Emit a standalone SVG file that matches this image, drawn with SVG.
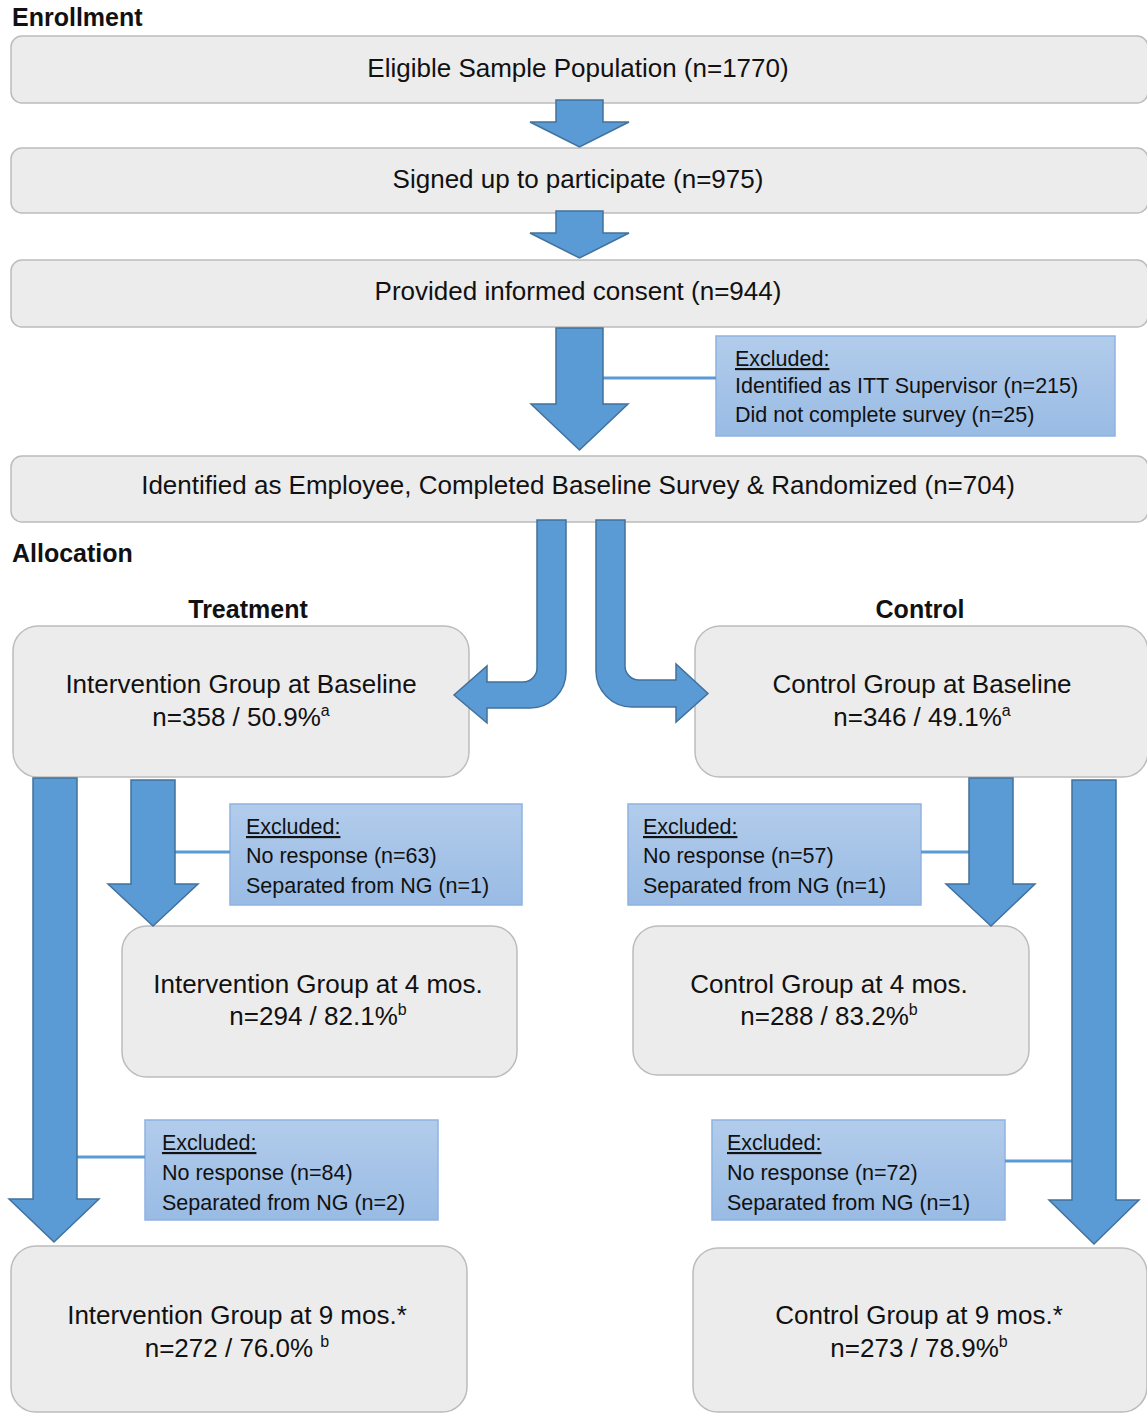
<svg xmlns="http://www.w3.org/2000/svg" width="1147" height="1414" viewBox="0 0 1147 1414">
  <defs>
    <linearGradient id="exclFill" x1="0" y1="0" x2="0" y2="1">
      <stop offset="0" stop-color="#b2cceb"/>
      <stop offset="1" stop-color="#99bbe4"/>
    </linearGradient>
  </defs>
  <style>
    text { font-family: "Liberation Sans", Arial, sans-serif; fill: #111; }
    .node { fill: #ececec; stroke: #bcbcbc; stroke-width: 1.5; }
    .main { font-size: 26px; text-anchor: middle; }
    .head { font-size: 25px; font-weight: bold; }
    .excl { fill: url(#exclFill); stroke: #8fb3e2; stroke-width: 1.5; }
    .etxt { font-size: 21.5px; }
    .arrow { fill: #5b9bd5; stroke: #41719c; stroke-width: 1.5; stroke-linejoin: miter; }
    .link { stroke: #5b9bd5; stroke-width: 3; fill: none; }
    .sup { font-size: 16px; }
  </style>

  <rect width="1147" height="1414" fill="#ffffff"/>

  <!-- section headings -->
  <g id="headings">
    <text class="head" x="12" y="26">Enrollment</text>
    <text class="head" x="12" y="562">Allocation</text>
    <text class="head" x="248" y="618" text-anchor="middle">Treatment</text>
    <text class="head" x="920" y="618" text-anchor="middle">Control</text>
  </g>

  <!-- enrollment steps -->
  <g id="eligible">
    <rect class="node" x="11" y="36" width="1137" height="67" rx="11"/>
    <text class="main" x="578" y="77">Eligible Sample Population (n=1770)</text>
  </g>
  <g id="signed-up">
    <rect class="node" x="11" y="148" width="1137" height="65" rx="11"/>
    <text class="main" x="578" y="188">Signed up to participate (n=975)</text>
  </g>
  <g id="consent">
    <rect class="node" x="11" y="260" width="1137" height="67" rx="11"/>
    <text class="main" x="578" y="300">Provided informed consent (n=944)</text>
  </g>
  <g id="excluded-enrollment">
    <rect class="excl" x="716" y="336" width="399" height="100"/>
    <text class="etxt" x="735" y="366" text-decoration="underline">Excluded:</text>
    <text class="etxt" x="735" y="393">Identified as ITT Supervisor (n=215)</text>
    <text class="etxt" x="735" y="422">Did not complete survey (n=25)</text>
  </g>
  <g id="randomized">
    <rect class="node" x="11" y="456" width="1137" height="66" rx="11"/>
    <text class="main" x="578" y="494">Identified as Employee, Completed Baseline Survey &amp; Randomized (n=704)</text>
  </g>

  <!-- treatment arm -->
  <g id="intervention-baseline">
    <rect class="node" x="13" y="626" width="456" height="151" rx="25"/>
    <text class="main" x="241" y="693">Intervention Group at Baseline</text>
    <text class="main" x="241" y="726">n=358 / 50.9%<tspan class="sup" dy="-10">a</tspan></text>
  </g>
  <g id="excluded-intervention-4">
    <rect class="excl" x="230" y="804" width="292" height="101"/>
    <text class="etxt" x="246" y="834" text-decoration="underline">Excluded:</text>
    <text class="etxt" x="246" y="863">No response (n=63)</text>
    <text class="etxt" x="246" y="893">Separated from NG (n=1)</text>
  </g>
  <g id="intervention-4mos">
    <rect class="node" x="122" y="926" width="395" height="151" rx="25"/>
    <text class="main" x="318" y="993">Intervention Group at 4 mos.</text>
    <text class="main" x="318" y="1025">n=294 / 82.1%<tspan class="sup" dy="-10">b</tspan></text>
  </g>
  <g id="excluded-intervention-9">
    <rect class="excl" x="145" y="1120" width="293" height="100"/>
    <text class="etxt" x="162" y="1150" text-decoration="underline">Excluded:</text>
    <text class="etxt" x="162" y="1180">No response (n=84)</text>
    <text class="etxt" x="162" y="1210">Separated from NG (n=2)</text>
  </g>
  <g id="intervention-9mos">
    <rect class="node" x="11" y="1246" width="456" height="166" rx="25"/>
    <text class="main" x="237" y="1324">Intervention Group at 9 mos.*</text>
    <text class="main" x="237" y="1357">n=272 / 76.0% <tspan class="sup" dy="-10">b</tspan></text>
  </g>

  <!-- control arm -->
  <g id="control-baseline">
    <rect class="node" x="695" y="626" width="453" height="151" rx="25"/>
    <text class="main" x="922" y="693">Control Group at Baseline</text>
    <text class="main" x="922" y="726">n=346 / 49.1%<tspan class="sup" dy="-10">a</tspan></text>
  </g>
  <g id="excluded-control-4">
    <rect class="excl" x="628" y="804" width="293" height="101"/>
    <text class="etxt" x="643" y="834" text-decoration="underline">Excluded:</text>
    <text class="etxt" x="643" y="863">No response (n=57)</text>
    <text class="etxt" x="643" y="893">Separated from NG (n=1)</text>
  </g>
  <g id="control-4mos">
    <rect class="node" x="633" y="926" width="396" height="149" rx="25"/>
    <text class="main" x="829" y="993">Control Group at 4 mos.</text>
    <text class="main" x="829" y="1025">n=288 / 83.2%<tspan class="sup" dy="-10">b</tspan></text>
  </g>
  <g id="excluded-control-9">
    <rect class="excl" x="712" y="1120" width="293" height="100"/>
    <text class="etxt" x="727" y="1150" text-decoration="underline">Excluded:</text>
    <text class="etxt" x="727" y="1180">No response (n=72)</text>
    <text class="etxt" x="727" y="1210">Separated from NG (n=1)</text>
  </g>
  <g id="control-9mos">
    <rect class="node" x="693" y="1248" width="454" height="164" rx="25"/>
    <text class="main" x="919" y="1324">Control Group at 9 mos.*</text>
    <text class="main" x="919" y="1357">n=273 / 78.9%<tspan class="sup" dy="-10">b</tspan></text>
  </g>

  <!-- connectors: block arrows and side links -->
  <g id="connectors">
    <line class="link" x1="603" y1="378" x2="716" y2="378"/>
    <line class="link" x1="175" y1="852" x2="230" y2="852"/>
    <line class="link" x1="921" y1="852" x2="969" y2="852"/>
    <line class="link" x1="77" y1="1157" x2="145" y2="1157"/>
    <line class="link" x1="1005" y1="1161" x2="1072" y2="1161"/>

    <path class="arrow" d="M556,100 H603 V122 H629 L579.5,147 L530,122 H556 Z"/>
    <path class="arrow" d="M556,211 H603 V233 H629 L579.5,258 L530,233 H556 Z"/>
    <path class="arrow" d="M556,328 H603 V404 H628 L579.5,450 L531,404 H556 Z"/>

    <path class="arrow" d="M537,520 H566 V672 A36,36 0 0 1 530,708 H487 V723 L454,695 L487,666 V682 H523 A14,14 0 0 0 537,668 Z"/>
    <path class="arrow" d="M596,520 H625 V666 A14,14 0 0 0 639,680 H676 V664 L708,693.5 L676,722 V707 H632 A36,36 0 0 1 596,671 Z"/>

    <path class="arrow" d="M33,778 H77 V1199 H99 L54,1242 L9,1199 H33 Z"/>
    <path class="arrow" d="M131,780 H175 V884 H198 L153,926 L108,884 H131 Z"/>
    <path class="arrow" d="M969,778 H1013 V884 H1035 L991,926 L946,884 H969 Z"/>
    <path class="arrow" d="M1072,780 H1116 V1200 H1139 L1094,1244 L1049,1200 H1072 Z"/>
  </g>
</svg>
